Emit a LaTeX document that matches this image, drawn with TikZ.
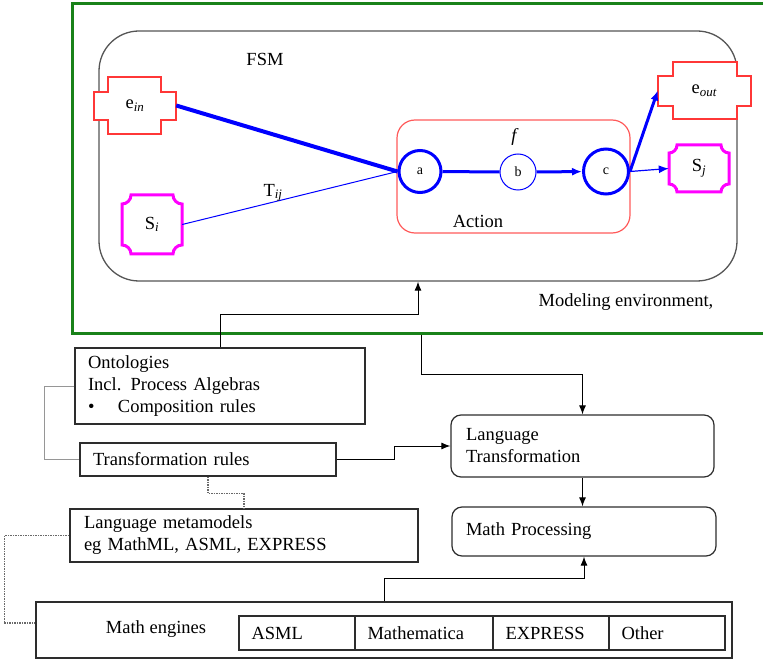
\documentclass[tikz,border=0pt]{standalone}
\usepackage{fontspec}
\setmainfont{Liberation Serif}
\usetikzlibrary{arrows.meta}
\definecolor{envgreen}{RGB}{25,130,25}
\definecolor{fsmgray}{RGB}{85,85,85}
\definecolor{evred}{RGB}{255,55,55}
\definecolor{actred}{RGB}{255,90,90}
\definecolor{stmag}{RGB}{255,0,255}
\definecolor{fblue}{RGB}{0,0,255}
\definecolor{boxgray}{RGB}{45,45,45}
\definecolor{linkgray}{RGB}{150,150,150}
\newcommand{\notchbox}[5]{%
  \draw[stmag, line width=3pt, fill=white] ({#1+#5},#2) -- ({#3-#5},#2)
   .. controls ({#3-#5},{#2+0.55*#5}) and ({#3-0.55*#5},{#2+#5}) .. (#3,{#2+#5})
   -- (#3,{#4-#5})
   .. controls ({#3-0.55*#5},{#4-#5}) and ({#3-#5},{#4-0.55*#5}) .. ({#3-#5},#4)
   -- ({#1+#5},#4)
   .. controls ({#1+#5},{#4-0.55*#5}) and ({#1+0.55*#5},{#4-#5}) .. (#1,{#4-#5})
   -- (#1,{#2+#5})
   .. controls ({#1+0.55*#5},{#2+#5}) and ({#1+#5},{#2+0.55*#5}) .. ({#1+#5},#2) -- cycle;}
\newcommand{\plusbox}[8]{%
  \draw[evred, line width=1.2pt, fill=white] (#2,#5) -- (#3,#5) -- (#3,#6) -- (#4,#6)
   -- (#4,#7) -- (#3,#7) -- (#3,#8) -- (#2,#8) -- (#2,#7) -- (#1,#7) -- (#1,#6)
   -- (#2,#6) -- cycle;}
\begin{document}
\begin{tikzpicture}[x=1pt,y=-1pt,
  every node/.style={font=\fontsize{18.5}{22}\selectfont},
  envbox/.style={draw=envgreen, line width=3pt, inner sep=0pt},
  fsmbox/.style={draw=fsmgray, line width=1.3pt, rounded corners=40pt, inner sep=0pt},
  actbox/.style={draw=actred, line width=1.2pt, rounded corners=18pt, inner sep=0pt},
  state/.style={circle, draw=fblue, fill=white, inner sep=0pt, font=\fontsize{14}{16}\selectfont},
  thickstate/.style={state, line width=3pt},
  thinstate/.style={state, line width=1pt, minimum size=36pt},
  blk/.style={draw=boxgray, line width=1.2pt, inner ysep=0pt, align=left},
  rblk/.style={blk, rounded corners=10pt},
  cell/.style={draw=boxgray, line width=1.1pt, minimum height=34pt, inner xsep=12.5pt, inner ysep=0pt, align=left},
  arr/.style={draw=black, line width=1pt, -{Latex[length=9pt,width=7pt]}},
  barr/.style={draw=fblue, -{Latex[length=10pt,width=8pt]}},
  graylink/.style={draw=linkgray, line width=1pt},
  dotlink/.style={draw=linkgray!70!black, line width=1.2pt, dash pattern=on 1.5pt off 1pt}]
\useasboundingbox (0,0) rectangle (763,660);

% modeling environment and FSM
\node[envbox, minimum width=694pt, minimum height=329pt] (env) at (419,168.5) {};
\node[fsmbox, minimum width=638pt, minimum height=250pt] (fsm) at (418,156) {};
\node (fsmlabel) at (265,59) {FSM};
\node (modenv) at (626,302) {Modeling environment,};

% events and states
\plusbox{94}{108}{161}{176}{77}{92}{120}{134}
\node[inner sep=0pt, minimum width=82pt, minimum height=57pt] (ein) at (135,105.5) {e\textsubscript{\textit{in}}};
\plusbox{658}{673}{737}{751}{62}{76}{106}{119}
\node[inner sep=0pt, minimum width=93pt, minimum height=57pt] (eout) at (704.5,90.5) {e\textsubscript{\textit{out}}};
\notchbox{122}{195}{182}{254}{9}
\node[inner sep=0pt, minimum width=60pt, minimum height=59pt] (si) at (152,224.5) {S\textsubscript{\textit{i}}};
\notchbox{669}{145}{729}{192}{8}
\node[inner sep=0pt, minimum width=60pt, minimum height=47pt] (sj) at (699,168.5) {S\textsubscript{\textit{j}}};

% action
\node[actbox, minimum width=233pt, minimum height=113pt] (action) at (513.5,176.5) {};
\node (flabel) at (515,137) {\textit{f}};
\node (actlabel) at (478,221) {Action};
\node[thickstate, minimum size=42pt] (a) at (420,171.5) {a};
\node[thinstate] (b) at (518,172) {b};
\node[thickstate, minimum size=45pt] (c) at (606,171.5) {c};

\draw[fblue, line width=4pt] (ein.east) -- (a.west);
\draw[fblue, line width=1pt] (si.east) -- (a.west);
\node (tij) at (273,193) {T\textsubscript{\textit{ij}}};
\draw[fblue, line width=3pt] (a) -- (b);
\draw[barr, line width=3pt] (b) -- (c);
\draw[barr, line width=3pt] (c.east) -- (eout.west);
\draw[barr, line width=1.2pt] (c.east) -- (sj.west);

% lower boxes
\node[blk, text width=264pt, inner xsep=13pt, minimum height=76pt] (onto) at (220,386)
  {Ontologies\\Incl. Process Algebras\\\makebox[30pt][l]{\textbullet}Composition rules};
\node[blk, text width=230pt, inner xsep=13pt, minimum height=33pt] (trans) at (208,459.5) {Transformation rules};
\node[rblk, text width=233pt, inner xsep=15pt, minimum height=62pt] (lt) at (582.5,446) {Language\\Transformation};
\node[rblk, text width=236pt, inner xsep=14pt, minimum height=49pt] (mp) at (584,531.5) {Math Processing};
\node[blk, text width=320pt, inner xsep=14pt, minimum height=53pt] (lm) at (244,535.5) {Language metamodels\\eg MathML, ASML, EXPRESS};
\node[blk, minimum width=696pt, minimum height=56pt, inner xsep=0pt] (me) at (384,630) {};
\node (metxt) at (156,629) {Math engines};
\node[cell, text width=91pt] (asml) at (297,633) {ASML};
\node[cell, text width=113pt] (mathem) at (424,633) {Mathematica};
\node[cell, text width=91pt] (expr) at (551,633) {EXPRESS};
\node[cell, text width=91pt] (other) at (667,633) {Other};

% connectors
\draw[arr] (onto.north) -- ++(0,-33) -| (fsm.south);
\draw[arr] ([xshift=2pt]env.south) -- ++(0,40) -| (lt.north);
\draw[arr] (trans.east) -- ++(58,0) |- (lt.west);
\draw[arr] (lt.south) -- (lt.south |- mp.north);
\draw[arr] (me.north) -- ++(0,-23) -| (mp.south);
\draw[graylink] (onto.west) -- ++(-30,0) |- (trans.west);
\draw[dotlink] (trans.south) -- ++(0,17) -| (lm.north);
\draw[dotlink] (lm.west) -- ++(-65,0) |- ([yshift=7pt]me.west);
\end{tikzpicture}
\end{document}
